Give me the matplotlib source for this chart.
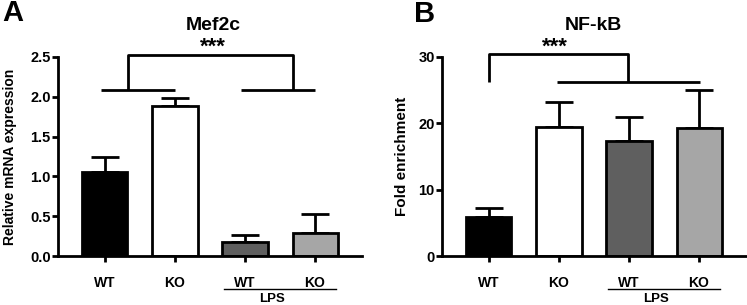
import matplotlib
matplotlib.use("Agg")
import matplotlib.pyplot as plt
import matplotlib.transforms as mtransforms

plt.rcParams['font.family'] = ['Liberation Sans', 'DejaVu Sans']
plt.rcParams['font.weight'] = 'bold'

# ---- data ----
groups = ["WT", "KO", "WT", "KO"]
bar_colors = ["#000000", "#ffffff", "#5f5f5f", "#a6a6a6"]

mef2c_mean = [1.06, 1.88, 0.18, 0.29]
mef2c_err = [0.19, 0.10, 0.09, 0.24]

nfkb_mean = [5.9, 19.5, 17.4, 19.3]
nfkb_err = [1.4, 3.7, 3.6, 5.8]

W, H = 747, 305
fig = plt.figure(figsize=(W / 100, H / 100), dpi=100)

def axrect(left_px, right_px, bottom_px, top_px):
    return [left_px / W, 1 - bottom_px / H, (right_px - left_px) / W, (bottom_px - top_px) / H]

axA = fig.add_axes(axrect(58, 362, 256, 57))
axB = fig.add_axes(axrect(442, 746, 256, 57))

LW = 2.0

def style(ax, means, errs, ymax, yticks, ylabel, label_x, label_size):
    x = list(range(len(means)))
    ax.bar(x, means, width=0.643, color=bar_colors, edgecolor="black",
           linewidth=LW, zorder=2)
    ax.errorbar(x, means, yerr=[[0] * len(errs), errs], fmt="none",
                ecolor="black", elinewidth=LW, capsize=10, capthick=LW, zorder=1)
    ax.set_xlim(-0.671, 3.671)
    ax.set_ylim(0, ymax)
    ax.set_yticks(yticks)
    ax.set_xticks(x)
    ax.set_xticklabels(groups, fontsize=10, fontweight="bold")
    for sp in ["top", "right"]:
        ax.spines[sp].set_visible(False)
    for sp in ["left", "bottom"]:
        ax.spines[sp].set_linewidth(LW)
    ax.tick_params(axis="y", length=4.3, width=LW, pad=1, labelsize=10.5)
    ax.tick_params(axis="x", length=4.3, width=LW, pad=10, labelsize=10)
    for t in ax.get_yticklabels():
        t.set_fontweight("bold")
    ax.set_ylabel(ylabel, fontsize=label_size, fontweight="bold")
    ax.yaxis.set_label_coords(label_x, 0.5)
    trans = mtransforms.blended_transform_factory(ax.transData, ax.transAxes)
    ax.plot([1.7, 3.3], [-0.168, -0.168], color="black", lw=1.0,
            transform=trans, clip_on=False)
    ax.text(2.38, -0.233, "LPS", transform=trans, ha="center", va="baseline",
            fontsize=9.5, fontweight="bold")

style(axA, mef2c_mean, mef2c_err, 2.5, [0, 0.5, 1.0, 1.5, 2.0, 2.5],
      "Relative mRNA expression", -0.135, 10)
axA.yaxis.set_major_formatter(matplotlib.ticker.FormatStrFormatter("%.1f"))
style(axB, nfkb_mean, nfkb_err, 30, [0, 10, 20, 30], "Fold enrichment", -0.11, 11)

# significance brackets
kw = dict(color="black", lw=LW, clip_on=False, solid_capstyle="butt")
axA.plot([-0.06, 1.0], [2.09, 2.09], **kw)
axA.plot([1.94, 3.0], [2.09, 2.09], **kw)
axA.plot([0.33, 0.33, 2.68, 2.68], [2.09, 2.53, 2.53, 2.09], **kw)
axA.text(1.54, 2.49, "***", ha="center", va="bottom", fontsize=16, fontweight="bold")

axB.plot([0.0, 0.0, 1.98, 1.98], [26.2, 30.4, 30.4, 26.2], **kw)
axB.plot([0.97, 3.02], [26.2, 26.2], **kw)
axB.text(0.94, 29.9, "***", ha="center", va="bottom", fontsize=16, fontweight="bold")

# titles and panel letters
fig.text(213 / W, 1 - 25 / H, "Mef2c", ha="center", va="center", fontsize=14, fontweight="bold")
fig.text(593 / W, 1 - 25 / H, "NF-kB", ha="center", va="center", fontsize=14, fontweight="bold")
fig.text(13 / W, 1 - 13 / H, "A", ha="center", va="center", fontsize=21, fontweight="bold")
fig.text(425 / W, 1 - 14 / H, "B", ha="center", va="center", fontsize=21, fontweight="bold")

fig.savefig("out.png", dpi=100)
